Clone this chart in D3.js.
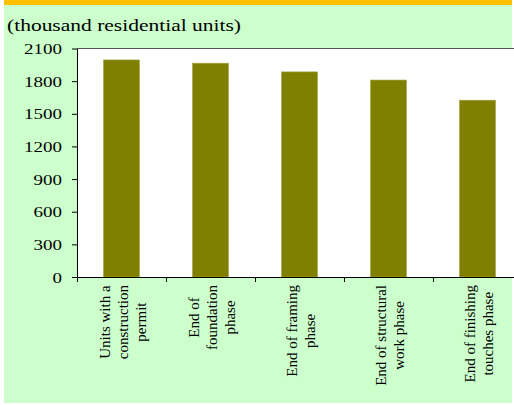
<!DOCTYPE html>
<html>
<head>
<meta charset="utf-8">
<script src="https://cdn.jsdelivr.net/npm/d3@7"></script>
<style>
  body { margin: 0; background: #fff; }
  svg { display: block; }
  text { font-family: 'Liberation Serif', 'Times New Roman', serif; fill: #000; }
</style>
</head>
<body>
<svg id="chart" width="514" height="405"></svg>
<script>
// data
const categories = [
  ['Units with a', 'construction', 'permit'],
  ['End of', 'foundation', 'phase'],
  ['End of framing', 'phase'],
  ['End of structural', 'work phase'],
  ['End of finishing', 'touches phase'],
];
const units = [1995, 1965, 1885, 1810, 1625];
const yTicks = [0, 300, 600, 900, 1200, 1500, 1800, 2100];
const unitLabel = '(thousand residential units)';

const svg = d3.select('#chart');
const stretch = 1.265; // the source text is a bit wider than it is tall

const plot = { left: 77, top: 48.5, bottom: 277, right: 514 };
const step = 89;

// background: orange strip and pale green panel
svg.append('rect')
  .attr('x', 4).attr('y', 0).attr('width', 508).attr('height', 5)
  .attr('fill', '#ffc000');
svg.append('rect')
  .attr('x', 4).attr('y', 5).attr('width', 508).attr('height', 398)
  .attr('fill', '#ccffcc');
svg.append('rect')
  .attr('x', plot.left).attr('y', plot.top)
  .attr('width', plot.right - plot.left).attr('height', plot.bottom - plot.top)
  .attr('fill', '#fff');

const keys = categories.map((c, i) => i);
const x = d3.scaleBand()
  .domain(keys)
  .range([plot.left, plot.left + step * keys.length])
  .paddingInner(0.5955)
  .paddingOuter(0.5955 / 2);

const xEdge = d3.scaleLinear()
  .domain([0, keys.length])
  .range([plot.left, plot.left + step * keys.length]);

const y = d3.scaleLinear()
  .domain([0, 2100])
  .range([plot.bottom, plot.top]);

// top border of the plot area
svg.append('line')
  .attr('x1', plot.left).attr('x2', plot.right)
  .attr('y1', y(2100)).attr('y2', y(2100))
  .attr('stroke', '#555').attr('stroke-width', 1.2);

svg.append('g')
  .selectAll('rect')
  .data(units)
  .enter().append('rect')
  .attr('x', (d, i) => x(i))
  .attr('y', d => y(d))
  .attr('width', x.bandwidth())
  .attr('height', d => y(0) - y(d))
  .attr('fill', '#808000')
  .attr('stroke', '#a3a34a')
  .attr('stroke-width', 0.6);

// y axis
const yAxis = svg.append('g')
  .attr('transform', `translate(${plot.left},0)`)
  .call(d3.axisLeft(y).tickValues(yTicks).tickSize(5).tickSizeOuter(0).tickFormat(d3.format('d')));
yAxis.select('.domain').attr('stroke', '#000');
yAxis.selectAll('.tick line').attr('stroke', '#000');
yAxis.selectAll('.tick text')
  .attr('x', 0)
  .attr('dy', '0.34em')
  .attr('transform', `translate(-15,0) scale(${stretch},1)`)
  .style('font-size', '15px');

// x axis: ticks between categories, labels drawn below
const xAxis = svg.append('g')
  .attr('transform', `translate(0,${plot.bottom})`)
  .call(d3.axisBottom(xEdge).tickValues(d3.range(keys.length + 1)).tickSize(5).tickSizeOuter(0).tickFormat(''));
xAxis.select('.domain').attr('stroke', '#000');
xAxis.selectAll('.tick line').attr('stroke', '#000');

const lineGap = 18;
const labels = svg.append('g')
  .selectAll('g')
  .data(categories)
  .enter().append('g');

labels.each(function(lines, i) {
  const g = d3.select(this);
  const t = g.append('text')
    .attr('text-anchor', 'middle')
    .style('font-size', '15px');
  lines.forEach((line, j) => {
    t.append('tspan')
      .attr('x', 0)
      .attr('y', (j - (lines.length - 1) / 2) * lineGap + 5)
      .text(line);
  });
  let longest = 0;
  t.selectAll('tspan').each(function() {
    longest = Math.max(longest, this.getComputedTextLength());
  });
  const cx = x(i) + x.bandwidth() / 2 + 1;
  const cy = 285 + longest / 2;
  g.attr('transform', `translate(${cx},${cy}) rotate(-90)`);
});

// unit label
svg.append('text')
  .attr('transform', `translate(7,31) scale(${stretch},1)`)
  .style('font-size', '17px')
  .text(unitLabel);
</script>
</body>
</html>
